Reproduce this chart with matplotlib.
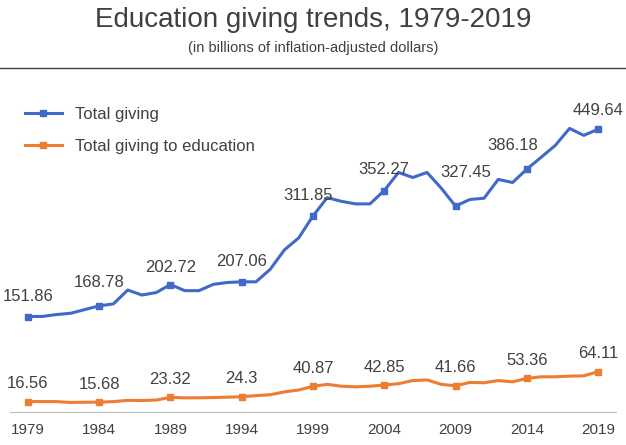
import matplotlib
matplotlib.use("Agg")
import matplotlib.pyplot as plt

plt.rcParams['font.family'] = ['Liberation Sans', 'DejaVu Sans']

years = list(range(1979, 2020))
total = [151.86, 152, 155, 157, 163, 168.78, 172, 194, 186, 190,
         202.72, 193, 193, 203, 206, 207.06, 207, 227, 258, 277,
         311.85, 341, 335, 331, 331, 352.27, 381, 373, 381, 356,
         327.45, 338, 340, 370, 365, 386.18, 405, 424, 451, 440, 449.64]
edu = [16.56, 16.6, 16.5, 15.2, 15.5, 15.68, 16.5, 18.5, 18.3, 19,
       23.32, 22.5, 22.6, 23, 23.6, 24.3, 26, 27.5, 32, 35,
       40.87, 44, 41, 40, 41, 42.85, 45, 50, 51, 44,
       41.66, 47, 46.5, 50, 48, 53.36, 56, 56, 57, 57.5, 64.11]
label_years = [1979, 1984, 1989, 1994, 1999, 2004, 2009, 2014, 2019]

blue = '#4169C8'
orange = '#ED7D31'

fig = plt.figure(figsize=(6.26, 4.45), dpi=100)
ax = fig.add_axes([10/626, 33/445, 606/626, 337/445])

mk = [years.index(y) for y in label_years]
ax.plot(years, total, color=blue, lw=2.2, marker='s', ms=5, markevery=mk, label='Total giving')
ax.plot(years, edu, color=orange, lw=2.2, marker='s', ms=5, markevery=mk, label='Total giving to education')

# label offsets in pixels (label centre relative to marker)
tot_off = [(0, 20), (0, 23), (0, 17), (0, 20), (-5, 20), (0, 21), (10, 34), (-14, 24), (0, 19)]
for i, (dx, dy) in zip(mk, tot_off):
    ax.annotate(f"{total[i]:g}", (years[i], total[i]), xytext=(dx, dy), textcoords='offset pixels',
                ha='center', va='center', fontsize=12, color='#404040')
    ax.annotate(f"{edu[i]:g}", (years[i], edu[i]), xytext=(0, 18), textcoords='offset pixels',
                ha='center', va='center', fontsize=12, color='#404040')

ax.set_xlim(1977.74, 2020.26)
ax.set_ylim(0, 536)
ax.set_yticks([])
ax.set_xticks(label_years)
ax.tick_params(axis='x', length=0, labelsize=11, colors='#404040', pad=8)
for s in ['top', 'left', 'right']:
    ax.spines[s].set_visible(False)
ax.spines['bottom'].set_color('#BFBFBF')

ax.legend(loc='upper left', bbox_to_anchor=(0.0, 0.95), frameon=False, fontsize=12,
          handlelength=2.2, labelspacing=1.0, labelcolor='#404040')

fig.text(0.5, 0.955, 'Education giving trends, 1979-2019', ha='center', va='center',
         fontsize=20, color='#404040')
fig.text(0.5, 0.893, '(in billions of inflation-adjusted dollars)', ha='center', va='center',
         fontsize=10.5, color='#404040')
fig.add_artist(plt.Line2D([0.0, 1.0], [1 - 68/445, 1 - 68/445], color='#404040', lw=1))

fig.savefig('out.png', dpi=100)
